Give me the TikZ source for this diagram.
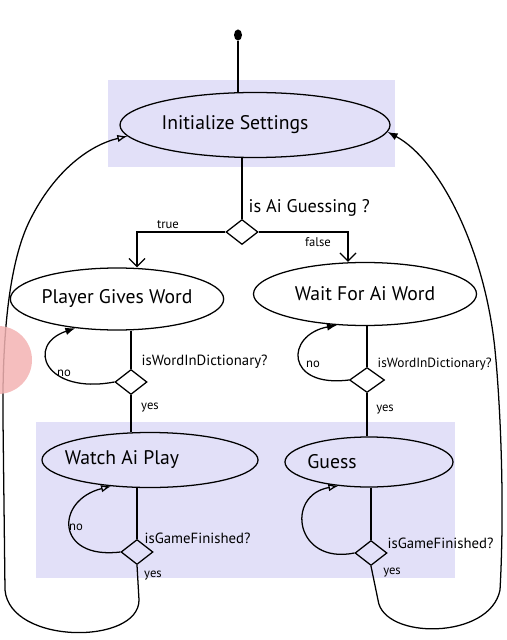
\documentclass[tikz,border=0pt]{standalone}
\usepackage{fontspec}
\setmainfont{PT Sans}
\usepackage{xcolor}
\usetikzlibrary{arrows.meta,positioning,shapes.geometric}

\definecolor{lanefill}{HTML}{E2E0F8}
\definecolor{touchmark}{HTML}{F3B3B3}

\begin{document}
\begin{tikzpicture}[
x=0.25mm, y=-0.25mm,
state/.style={draw, ellipse, line width=0.9pt, inner sep=0pt},
statetext/.style={font=\fontsize{14}{16}\selectfont},
choice/.style={draw, diamond, line width=0.9pt, inner sep=0pt, minimum width=8mm, minimum height=6.25mm},
cue/.style={font=\fontsize{10.5}{12}\selectfont, inner sep=1pt},
tag/.style={font=\fontsize{9}{11}\selectfont, inner sep=1pt},
wire/.style={line width=0.9pt},
line/.style={-{Latex[length=2.5mm]}, line width=0.9pt},
back/.style={-{Latex[open, length=2.5mm]}, line width=0.9pt},
fork/.style={-{Straight Barb[length=2mm]}, line width=0.9pt},
lane/.style={fill=lanefill, draw=none}
]
\useasboundingbox (0,0) rectangle (507,640);

% --- Lanes ---
\fill[lane] (108,80) rectangle (395,167);
\fill[lane] (36,422) rectangle (455,578);

% --- Start ---
\node[ellipse, fill, inner sep=0pt, minimum width=2mm, minimum height=2.8mm] (start) at (238,35) {};
\node[state, minimum width=67.5mm, minimum height=16.25mm, label={[statetext, xshift=-5mm]center:Initialize Settings}] (init) at (255,125) {};

% --- Who guesses ---
\node[choice] (aiq) at (242,232) {};
\node[state, statetext, minimum width=52.5mm, minimum height=15.5mm] (player) at (117,299) {Player Gives Word};
\node[state, statetext, minimum width=55.75mm, minimum height=15.75mm] (waitai) at (365,294) {Wait For Ai Word};

% --- Word checks ---
\node[choice] (pdict) at (131,382) {};
\node[choice, minimum width=8.75mm] (wdict) at (367,380) {};

% --- Play ---
\node[state, minimum width=54mm, minimum height=13.75mm, label={[statetext, xshift=-7mm]center:Watch Ai Play}] (watch) at (150,460) {};
\node[state, minimum width=42mm, minimum height=12.5mm, label={[statetext, xshift=-9.25mm]center:Guess}] (guess) at (369,462) {};

% --- Game checks ---
\node[choice] (wgame) at (137,552) {};
\node[choice] (ggame) at (371,553) {};

% --- Labels ---
\node[cue, anchor=west, font=\fontsize{13}{15}\selectfont] (aiqtext) at (247,208) {is Ai Guessing ?};
\node[tag] (truetext) at (168,225) {true};
\node[tag] (falsetext) at (318,242) {false};
\node[cue, anchor=west] (pdicttext) at (140,362) {isWordInDictionary?};
\node[tag] (pnotext) at (64,373) {no};
\node[tag] (pyestext) at (150,408) {yes};
\node[cue, anchor=west, font=\fontsize{9.5}{11}\selectfont] (wdicttext) at (376,364) {isWordInDictionary?};
\node[tag] (wnotext) at (313,364) {no};
\node[tag] (wyestext) at (385,410) {yes};
\node[cue, anchor=west] (wgametext) at (143,538) {isGameFinished?};
\node[tag] (wgamenotext) at (76,527) {no};
\node[tag] (wgameyestext) at (153,576) {yes};
\node[cue, anchor=west] (ggametext) at (386,543) {isGameFinished?};
\node[tag] (ggameyestext) at (392,573) {yes};

% --- Connections ---
\draw[wire] (start) -- (start |- init.north);
\draw[wire] (aiq |- init.south) -- (aiq.north);
\draw[fork] (aiq.west) -| ([xshift=5mm]player.north);
\draw[fork] (aiq.east) -| ([xshift=-4.25mm]waitai.north);

\draw[wire] (pdict |- player.south) -- (pdict.north);
\draw[line] (pdict.west) .. controls (45,395) and (25,345) .. (player.215);
\draw[wire] (pdict.south) -- (pdict.south |- watch.north);

\draw[wire] (wdict |- waitai.south) -- (wdict.north);
\draw[line] (wdict.west) .. controls (285,388) and (285,335) .. (waitai.228);
\draw[wire] (wdict.south) -- (wdict.south |- guess.north);

\draw[wire] (wgame |- watch.south) -- (wgame.north);
\draw[back] (wgame.west) .. controls (55,560) and (55,500) .. (watch.214);
\draw[wire] (ggame |- guess.south) -- (ggame.north);
\draw[back] (ggame.west) .. controls (295,565) and (285,495) .. (guess.218);

% back to the start
\draw[back] (wgame.south) -- (139,600) .. controls (139,645) and (10,645) .. (5,590) -- (3,420) .. controls (2,330) and (10,260) .. (30,220) .. controls (55,170) and (90,145) .. (init.185);
\draw[line] (ggame.south) -- (378,600) .. controls (383,640) and (490,640) .. (500,590) .. controls (505,500) and (500,400) .. (495,350) .. controls (485,250) and (440,160) .. (init.357);

% touch mark
\fill[touchmark, fill opacity=0.85] (-2,360) circle (8.5mm);

\end{tikzpicture}
\end{document}
